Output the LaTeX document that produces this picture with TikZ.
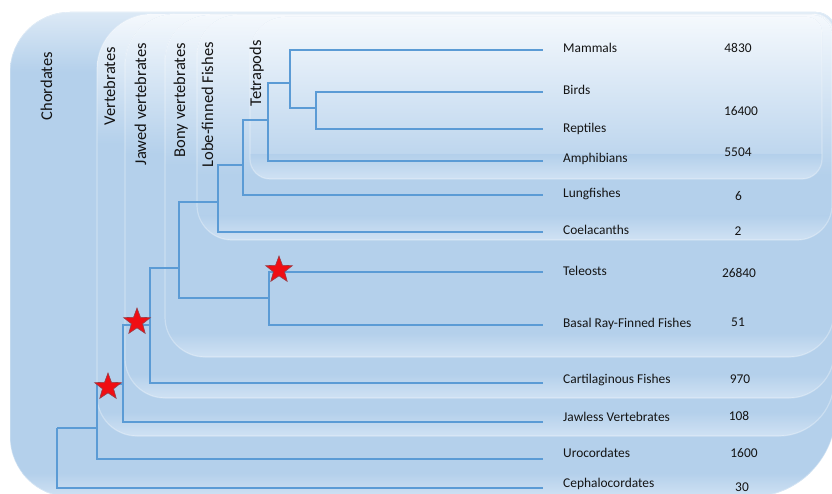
\documentclass[tikz,border=0pt]{standalone}
\usepackage{fontspec}
\setmainfont{Carlito}
\usetikzlibrary{shapes.geometric}

\definecolor{pblue}{RGB}{180,208,235}
\definecolor{ptop}{RGB}{245,249,253}
\definecolor{prim}{RGB}{210,227,244}
\definecolor{branchblue}{RGB}{91,155,213}
\definecolor{inktext}{RGB}{20,20,20}
\definecolor{starred}{RGB}{240,14,20}
\definecolor{staredge}{RGB}{150,62,72}

% Rounded panel outline: x0 y0 x1 y1, then corner radii tl tr br bl
\newcommand\panelpath[8]{%
  ({#1},{#2+#5}) .. controls ({#1},{#2+0.45*#5}) and ({#1+0.45*#5},{#2}) .. ({#1+#5},{#2})
  -- ({#3-#6},{#2}) .. controls ({#3-0.45*#6},{#2}) and ({#3},{#2+0.45*#6}) .. ({#3},{#2+#6})
  -- ({#3},{#4-#7}) .. controls ({#3},{#4-0.45*#7}) and ({#3-0.45*#7},{#4}) .. ({#3-#7},{#4})
  -- ({#1+#8},{#4}) .. controls ({#1+0.45*#8},{#4}) and ({#1},{#4-0.45*#8}) .. ({#1},{#4-#8})
  -- cycle}

% Shaded panel: light at the top, blue body, soft light rim at the bottom
\newcommand\panel[9]{%
  \begin{scope}
    \clip \panelpath{#1}{#2}{#3}{#4}{#5}{#6}{#7}{#8};
    \fill[pblue] ({#1-2},{#2-2}) rectangle ({#3+2},{#4+2});
    \shade[top color=ptopnow, bottom color=pblue] ({#1-2},{#2-2}) rectangle ({#3+2},{#2+#9});
    \shade[top color=pblue, bottom color=prim] ({#1-2},{#4-24}) rectangle ({#3+2},{#4+2});
  \end{scope}
  \draw[paneledge] \panelpath{#1}{#2}{#3}{#4}{#5}{#6}{#7}{#8};}

\tikzset{
  paneledge/.style={draw=white, draw opacity=0.3, line width=1.2pt},
  branch/.style={draw=branchblue, line width=1.6pt},
  cladelabel/.style={rotate=90, anchor=base east, inner sep=0pt, text=inktext,
    font=\fontsize{16.5}{18}\selectfont},
  taxon/.style={anchor=base west, inner sep=0pt, text=inktext,
    font=\fontsize{13.4}{15}\selectfont},
  count/.style={anchor=base, inner sep=0pt, text=inktext,
    font=\fontsize{13.4}{15}\selectfont},
  starmark/.style={star, star points=5, star point ratio=2.4, minimum size=28pt,
    inner sep=0pt, fill=starred, draw=staredge, line width=0.6pt}
}

\begin{document}
\begin{tikzpicture}[x=1pt, y=-1pt]
\useasboundingbox (0,0) rectangle (832,494);
\fill[white] (0,0) rectangle (832,494);

% nested clade panels, outermost first
\colorlet{ptopnow}{pblue!45!white}
\panel{10}{12}{836}{497}{60}{20}{85}{60}{60}
\colorlet{ptopnow}{ptop}
\panel{97}{14}{834}{436}{55}{20}{55}{40}{130}
\panel{125}{14}{834}{398}{50}{20}{45}{40}{140}
\panel{165}{15}{834}{357}{45}{20}{45}{40}{150}
\panel{197}{15}{832}{240}{40}{20}{35}{35}{160}
\panel{250}{17}{822}{179}{35}{15}{20}{20}{162}

% clade names
\node[cladelabel] (lab-chordates) at (52,52) {Chordates};
\node[cladelabel] (lab-vertebrates) at (115,47) {Vertebrates};
\node[cladelabel] (lab-jawed) at (146,43) {Jawed vertebrates};
\node[cladelabel] (lab-bony) at (185,43) {Bony vertebrates};
\node[cladelabel] (lab-lobe) at (213,42) {Lobe-finned Fishes};
\node[cladelabel] (lab-tetrapods) at (261,40) {Tetrapods};

% internal nodes of the tree
\coordinate (root)  at (57,428);
\coordinate (chord) at (97,428);
\coordinate (vert)  at (123,384);
\coordinate (jawed) at (150,325);
\coordinate (bony)  at (179,268);
\coordinate (ray)   at (269,298);
\coordinate (lobe)  at (218,202);
\coordinate (rhip)  at (243,165);
\coordinate (tetra) at (268,120);
\coordinate (amnio) at (290,83);
\coordinate (sauro) at (316,108);

% tips of the branches
\coordinate (t-mammals)  at (543,50);
\coordinate (t-birds)    at (543,92);
\coordinate (t-reptiles) at (543,129);
\coordinate (t-amphib)   at (543,161);
\coordinate (t-lung)     at (543,195);
\coordinate (t-coel)     at (543,232);
\coordinate (t-tele)     at (543,272);
\coordinate (t-basal)    at (543,325);
\coordinate (t-cart)     at (543,383);
\coordinate (t-jawless)  at (543,422);
\coordinate (t-uro)      at (543,459);
\coordinate (t-cephalo)  at (543,488);

% branches
\draw[branch] (root) |- (chord)  (root) |- (t-cephalo);
\draw[branch] (chord) |- (vert)  (chord) |- (t-uro);
\draw[branch] (vert) |- (jawed)  (vert) |- (t-jawless);
\draw[branch] (jawed) |- (bony)  (jawed) |- (t-cart);
\draw[branch] (bony) |- (lobe)   (bony) |- (ray);
\draw[branch] (ray) |- (t-tele)  (ray) |- (t-basal);
\draw[branch] (lobe) |- (rhip)   (lobe) |- (t-coel);
\draw[branch] (rhip) |- (tetra)  (rhip) |- (t-lung);
\draw[branch] (tetra) |- (amnio) (tetra) |- (t-amphib);
\draw[branch] (amnio) |- (t-mammals) (amnio) |- (sauro);
\draw[branch] (sauro) |- (t-birds)   (sauro) |- (t-reptiles);

% marked events
\node[starmark] (star-chord) at (108,387) {};
\node[starmark] (star-vert)  at (137,322) {};
\node[starmark] (star-ray)   at (279,270) {};

% taxa
\node[taxon] (n-mammals)  at (563,52.5)  {Mammals};
\node[taxon] (n-birds)    at (563,94.5)  {Birds};
\node[taxon] (n-reptiles) at (563,132.5) {Reptiles};
\node[taxon] (n-amphib)   at (563,162.5) {Amphibians};
\node[taxon] (n-lung)     at (563,197.5) {Lungfishes};
\node[taxon] (n-coel)     at (563,234.5) {Coelacanths};
\node[taxon] (n-tele)     at (563,275.5) {Teleosts};
\node[taxon] (n-basal)    at (563,327.5) {Basal Ray-Finned Fishes};
\node[taxon] (n-cart)     at (563,383.5) {Cartilaginous Fishes};
\node[taxon] (n-jawless)  at (563,421.5) {Jawless Vertebrates};
\node[taxon] (n-uro)      at (563,457.5) {Urocordates};
\node[taxon] (n-cephalo)  at (563,487.5) {Cephalocordates};

% species counts
\node[count] (c-mammals) at (738,52.5)  {4830};
\node[count] (c-sauro)   at (741,115.5) {16400};
\node[count] (c-amphib)  at (738,156.5) {5504};
\node[count] (c-lung)    at (738.5,200.5) {6};
\node[count] (c-coel)    at (738,235.5) {2};
\node[count] (c-tele)    at (739,277.5) {26840};
\node[count] (c-basal)   at (738,326.5) {51};
\node[count] (c-cart)    at (740,383.5) {970};
\node[count] (c-jawless) at (739,420.5) {108};
\node[count] (c-uro)     at (744,457.5) {1600};
\node[count] (c-cephalo) at (742,491.5) {30};
\end{tikzpicture}
\end{document}
